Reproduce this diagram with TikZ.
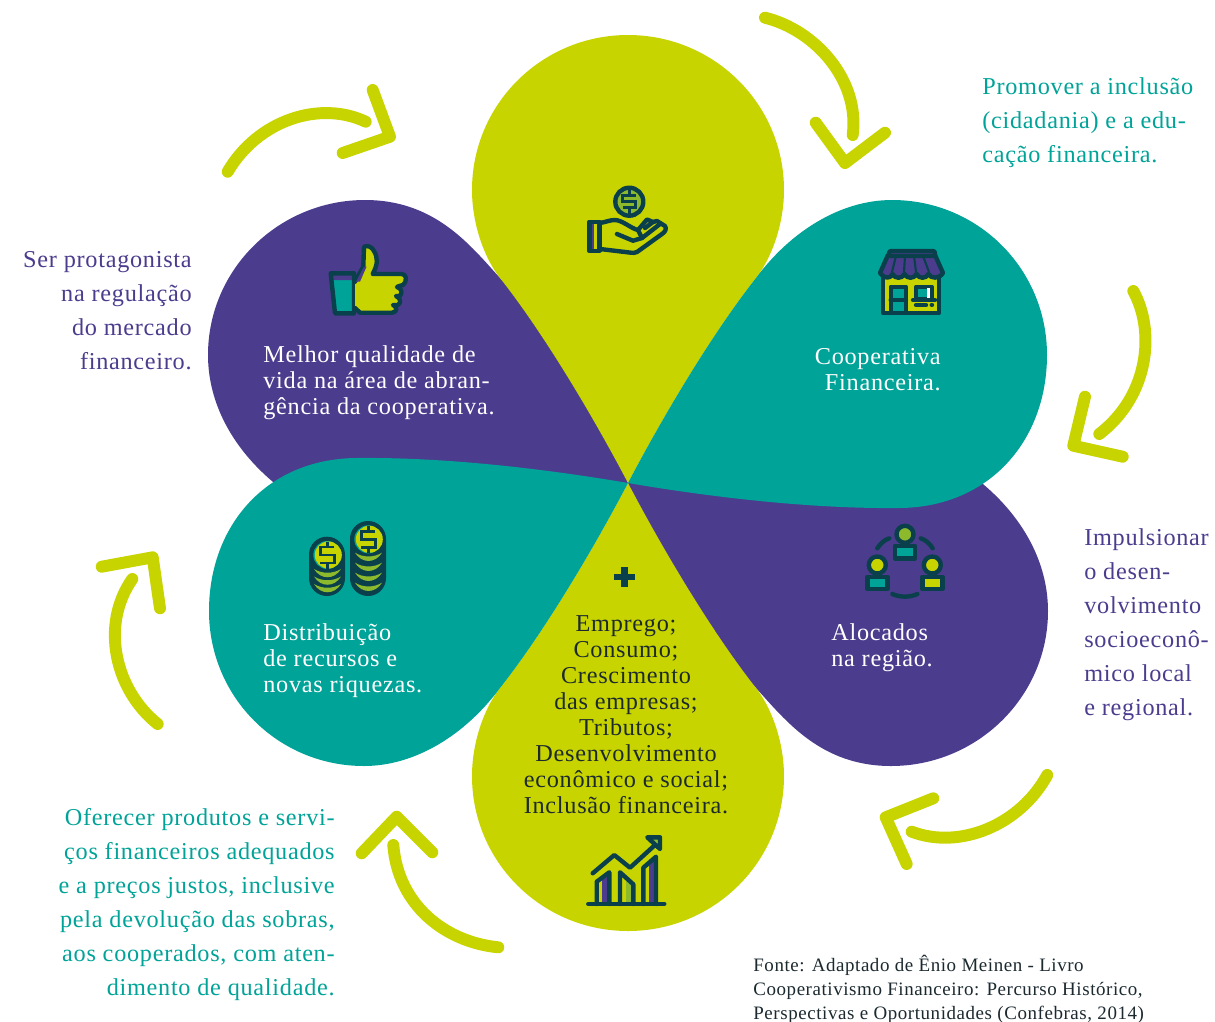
\documentclass[tikz,border=0pt]{standalone}
\usepackage{fontspec}
\setmainfont[LetterSpace=3]{Liberation Serif}
\definecolor{teal}{HTML}{00A398}
\definecolor{purp}{HTML}{4C3C8E}
\definecolor{oliv}{HTML}{C8D400}
\definecolor{dk}{HTML}{0A3F4C}
\definecolor{grn}{HTML}{8CBA2C}
\definecolor{txt}{HTML}{1C2A30}
\tikzset{
 arrowline/.style={draw=oliv,line width=6.8pt,line cap=round,line join=round,fill=none},
 ic/.style={draw=dk,line width=2.5pt,line join=round,line cap=round},
 dl/.style={draw=dk,line width=1.5pt,line join=miter,line cap=butt},
 side/.style={inner sep=0,font=\fontsize{13.8}{19.35}\selectfont},
 inpet/.style={inner sep=0,text=white,font=\fontsize{13.8}{14.8}\selectfont},
}
\newcommand{\dollarmark}[5]{% x y halfwidth barheight stub
 \draw[dl] ({#1+#3},{#2-#4}) -- ({#1-#3},{#2-#4}) -- ({#1-#3},#2) -- ({#1+#3},#2) -- ({#1+#3},{#2+#4}) -- ({#1-#3},{#2+#4});
 \draw[dl] (#1,{#2-#4}) -- (#1,{#2-#5}) (#1,{#2+#4}) -- (#1,{#2+#5});}
\newcommand{\crescent}[3]{% left x, y, width
 \fill[grn] (#1,#2) .. controls ({#1+0.3*#3},{#2+5}) and ({#1+0.7*#3},{#2+5}) .. ({#1+#3},#2) .. controls ({#1+0.75*#3},{#2+11}) and ({#1+0.25*#3},{#2+11}) .. (#1,#2) -- cycle;}
\begin{document}
\begin{tikzpicture}[x=0.02cm,y=-0.02cm]
\useasboundingbox (0,0) rectangle (1215,1022);
\fill[white] (0,0) rectangle (1215,1022);
% petals
\fill[purp] (628,483) -- (600,380) -- (500,278) .. controls (470,245) and (435,200) .. (365,200) .. controls (279,200) and (208,269) .. (208,355) .. controls (208,410) and (240,460) .. (290,495) -- cycle;
\fill[purp] (628,483) -- (656,586) -- (756,688) .. controls (786,721) and (821,766) .. (891,766) .. controls (977,766) and (1048,697) .. (1048,611) .. controls (1048,556) and (1016,506) .. (966,471) -- cycle;
\fill[oliv] (628,483) .. controls (595,420) and (545,335) .. (500,278) .. controls (485,259) and (472,225) .. (472,190) .. controls (472,104) and (542,35) .. (628,35) .. controls (714,35) and (784,104) .. (784,190) .. controls (784,225) and (771,259) .. (756,278) .. controls (711,335) and (661,420) .. (628,483) -- cycle;
\fill[oliv] (628,483) .. controls (595,546) and (545,631) .. (500,688) .. controls (485,707) and (472,741) .. (472,776) .. controls (472,862) and (542,931) .. (628,931) .. controls (714,931) and (784,862) .. (784,776) .. controls (784,741) and (771,707) .. (756,688) .. controls (711,631) and (661,546) .. (628,483) -- cycle;
\fill[teal] (628,483) .. controls (661,420) and (711,335) .. (756,278) .. controls (790,232) and (840,200) .. (892,200) .. controls (978,200) and (1047,269) .. (1047,355) .. controls (1047,440) and (990,507) .. (900,508) .. controls (810,509) and (710,497) .. (628,483) -- cycle;
\fill[teal] (628,483) .. controls (595,546) and (545,631) .. (500,688) .. controls (466,734) and (416,766) .. (364,766) .. controls (278,766) and (209,697) .. (209,611) .. controls (209,526) and (266,459) .. (356,458) .. controls (446,457) and (546,469) .. (628,483) -- cycle;
% arrows
\coordinate (a1s) at (765,17.7); \coordinate (a1e) at (852.7,135);
\coordinate (a2s) at (1133.3,291); \coordinate (a2e) at (1099.3,434);
\coordinate (a3s) at (1047.3,775); \coordinate (a3e) at (911.7,831.7);
\coordinate (a4s) at (498.3,947.3); \coordinate (a4e) at (393.3,845);
\coordinate (a5s) at (157.7,724); \coordinate (a5e) at (132.3,579);
\coordinate (a6s) at (227.7,171.7); \coordinate (a6e) at (365.7,121.7);
\draw[arrowline] (a1s) .. controls (815,30) and (860,80) .. (a1e);
\draw[arrowline] (815.7,122.7) -- (845,163) -- (885,132.7);
\draw[arrowline] (a2s) .. controls (1155,330) and (1150,395) .. (a2e);
\draw[arrowline] (1085,396.7) -- (1073.3,445.7) -- (1122.7,456.7);
\draw[arrowline] (a3s) .. controls (1020,825) and (960,850) .. (a3e);
\draw[arrowline] (933.3,798.3) -- (885.7,817.3) -- (906.7,864);
\draw[arrowline] (a4s) .. controls (445,942) and (398,905) .. (a4e);
\draw[arrowline] (361.7,853.3) -- (396.7,816.7) -- (432.3,852.3);
\draw[arrowline] (a5s) .. controls (115,690) and (100,625) .. (a5e);
\draw[arrowline] (101.7,566.7) -- (152.7,557.3) -- (160,608.3);
\draw[arrowline] (a6s) .. controls (258,120) and (320,100) .. (a6e);
\draw[arrowline] (372.7,90) -- (390,136.7) -- (342.7,153);
% hand icon
\draw[ic,fill=grn] (629.3,201.7) circle (14);
\dollarmark{629.3}{201.7}{6.5}{6}{13}
\fill[purp] (589.3,221.7) rectangle (594,251);
\draw[ic] (589.3,221.7) rectangle (599.3,251);
\draw[ic] (600,223) .. controls (606,222) and (610,220) .. (615,220) .. controls (622,220) and (632,229) .. (638,230) -- (647,219.5) -- (653,222) -- (657,221) -- (665,226) .. controls (667,229) and (665,232) .. (662,234) -- (637,252) .. controls (635,253) and (633,253) .. (631,252.7) -- (600,249);
\draw[ic] (617,234) -- (633,240.7) -- (642,238) -- (660,224);
\draw[ic] (638,230) -- (642,238);
\draw[ic] (645,228) -- (653,222);
% thumb
\fill[teal] (330.7,273.3) -- (354,273.3) -- (354,313.3) -- (335,313.3) -- cycle;
\fill[purp] (330.7,273.3) -- (354,273.3) -- (354,280) -- (331.4,280) -- cycle;
\draw[ic] (330.7,273.3) -- (354,273.3) -- (354,313.3) -- (335,313.3) -- cycle;
\draw[ic,fill=oliv] (355,281.7) -- (363.3,266.7) -- (364,246.7) .. controls (368,245) and (372,247) .. (374,251) .. controls (378,258) and (378,264) .. (372.7,274) -- (401.7,274) .. controls (406,274) and (408,280) .. (403,285) .. controls (400,286) and (398,286) .. (397,287) .. controls (401,288) and (403,292) .. (400,296) -- (396,296) .. controls (400,298) and (402,302) .. (398,305) -- (393,305) .. controls (397,306) and (398,312.7) .. (392,312.7) -- (360,312.7) -- (355,308);
\fill[purp] (356,281.7) -- (364,266.7) -- (366.5,266.7) -- (360,281.7) -- cycle;
% store
\fill[oliv] (883,276) rectangle (939,313);
\draw[ic] (883,276) -- (883,313) -- (939,313) -- (939,276);
\draw[ic,fill=purp] (888,255) -- (880,273) .. controls (885,279) and (890,279) .. (892.5,274) .. controls (895,279) and (902,279) .. (904.5,274) .. controls (907,279) and (914,279) .. (916.5,274) .. controls (919,279) and (926,279) .. (928.5,274) .. controls (931,279) and (939,279) .. (943,273) -- (935,255) -- cycle;
\foreach \a/\b in {896/892,905/904,914/916,923/929}{\draw[dk,line width=1.2pt] (\a,256) -- (\b,272);}
\draw[ic,fill=purp,rounded corners=1.2pt] (889,251) rectangle (935,256);
\draw[ic,fill=teal] (890.7,286.7) rectangle (906,313);
\draw[ic] (890.7,300) -- (906,300);
\draw[ic,fill=teal] (916,286.7) rectangle (931.7,299.3);
\fill[white] (926.5,288) rectangle (929.5,298);
\draw[ic] (913,300) -- (935,300);
\draw[ic] (916,305) -- (926,305);
\draw[ic] (931.7,305) -- (932,305);
% coins
\fill[dk,rounded corners=10.2pt] (309,536.7) rectangle (345,596);
\fill[dk,rounded corners=10.2pt] (350,521) rectangle (386,596);
\foreach \y in {569,576.5,584}{\crescent{314}{\y}{27}}
\foreach \y in {552.7,562.7,572.7,582.7}{\crescent{355}{\y}{27}}
\fill[teal] (327.3,555) circle (14);
\fill[teal] (368.3,539.3) circle (14);
\fill[oliv] (328.3,555) circle (13.5);
\fill[oliv] (369.3,539.3) circle (13.5);
\dollarmark{327.3}{555}{7}{8}{13.5}
\dollarmark{368.3}{539.3}{7}{8}{13.5}
% people
\draw[ic,fill=grn] (905,534.3) circle (8.5);
\draw[ic,fill=teal] (895,545.7) rectangle (915,558.3);
\draw[ic,fill=oliv] (877.3,565) circle (8.5);
\draw[ic,fill=teal] (867.3,576.7) rectangle (887.3,589);
\draw[ic,fill=oliv] (932.3,565) circle (8.5);
\draw[ic,fill=oliv] (922.3,576.7) rectangle (942.3,589);
\draw[ic] (877.3,548.3) .. controls (880,544) and (884,540) .. (889.3,538.3);
\draw[ic] (920.7,538.3) .. controls (926,540) and (930,544) .. (932.7,548.3);
\draw[ic] (892.3,594) .. controls (900,597.5) and (910,597.5) .. (917.3,594);
% chart
\fill[purp] (602,878) -- (609.3,872.3) -- (609.3,904) -- (602,904) -- cycle;
\fill[grn] (626,878) -- (633.3,884.3) -- (633.3,904) -- (626,904) -- cycle;
\fill[purp] (649,862) -- (656,856.7) -- (656,904) -- (649,904) -- cycle;
\draw[ic] (596.7,904) -- (596.7,881.7) -- (609.3,872.3) -- (609.3,904);
\draw[ic] (620,904) -- (620,872.3) -- (633.3,884.3) -- (633.3,904);
\draw[ic] (643.3,904) -- (643.3,867.7) -- (656,856.7) -- (656,904);
\draw[ic] (588.3,904) -- (664.3,904);
\draw[ic] (592.7,873.3) -- (614.3,855) -- (630,867.7) -- (655,845);
\draw[ic,fill=grn] (647.3,837.3) -- (660,837.3) -- (660,849) -- cycle;
% plus
\draw[dk,line width=3.9pt] (614,577) -- (635,577) (624.5,567) -- (624.5,587);
% texts
\node[side,text=teal,align=left,anchor=west] (t1) at (982,123) {Promover a inclusão\\(cidadania) e a edu-\\cação financeira.};
\node[side,text=purp,align=right,anchor=east] (t2) at (192,311) {Ser protagonista\\na regulação\\do mercado\\financeiro.};
\node[side,text=purp,align=left,anchor=west] (t3) at (1084,625) {Impulsionar\\o desen-\\volvimento\\socioeconô-\\mico local\\e regional.};
\node[side,text=teal,align=right,anchor=east] (t4) at (335,905) {Oferecer produtos e servi-\\ços financeiros adequados\\e a preços justos, inclusive\\pela devolução das sobras,\\aos cooperados, com aten-\\dimento de qualidade.};
\node[inpet,align=left,anchor=west] (p1) at (263,383) {Melhor qualidade de\\vida na área de abran-\\gência da cooperativa.};
\node[inpet,align=right,anchor=east] (p2) at (941,370) {Cooperativa\\Financeira.};
\node[inpet,align=left,anchor=west] (p3) at (263,661) {Distribuição\\de recursos e\\novas riquezas.};
\node[inpet,align=left,anchor=west] (p4) at (831,648) {Alocados\\na região.};
\node[inpet,text=txt,align=center,anchor=center] (p5) at (626,715) {Emprego;\\Consumo;\\Crescimento\\das empresas;\\Tributos;\\Desenvolvimento\\econômico e social;\\Inclusão financeira.};
\node[inner sep=0,text=txt,align=left,anchor=west,font=\fontsize{10.8}{13.66}\selectfont] (src) at (753,989) {Fonte: Adaptado de Ênio Meinen - Livro\\Cooperativismo Financeiro: Percurso Histórico,\\Perspectivas e Oportunidades (Confebras, 2014)};
\end{tikzpicture}
\end{document}
